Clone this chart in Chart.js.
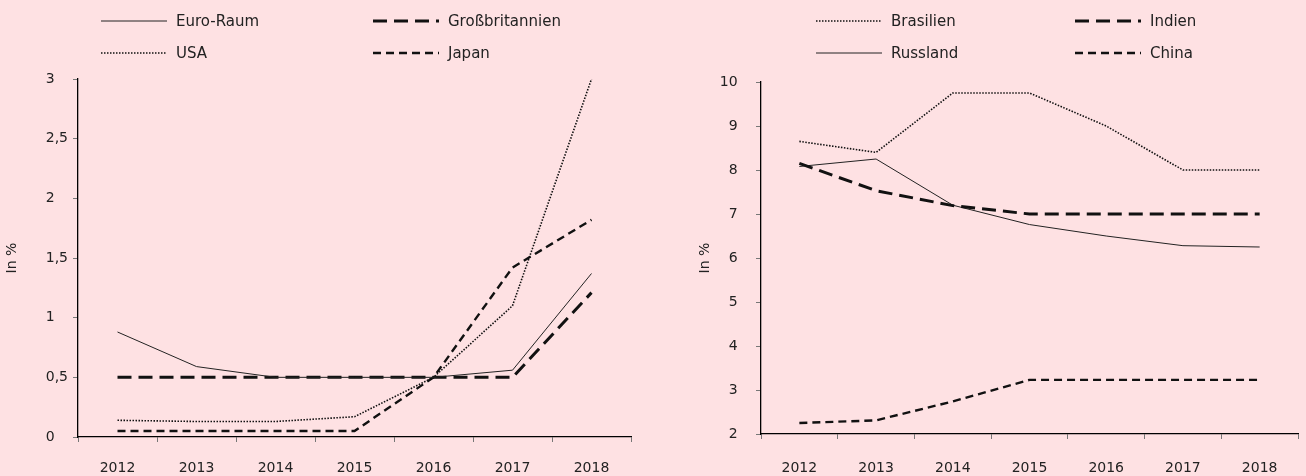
<!DOCTYPE html>
<html>
<head>
<meta charset="utf-8">
<script src="https://cdn.jsdelivr.net/npm/chart.js@4/dist/chart.umd.min.js"></script>
<style>
  html, body { margin: 0; padding: 0; background: #fee1e3; overflow: hidden; }
  #wrap { position: relative; width: 1306px; height: 476px; }
  canvas { position: absolute; top: 0; }
  #left { left: 0; }
  #right { left: 653px; }
</style>
</head>
<body>
<div id="wrap">
  <canvas id="left" width="653" height="476"></canvas>
  <canvas id="right" width="653" height="476"></canvas>
</div>
<script>
// ---- Data ----
const years = ['2012', '2013', '2014', '2015', '2016', '2017', '2018'];

const leftLabels = ['Euro-Raum', 'Großbritannien', 'USA', 'Japan'];
const euroRaum       = [0.88, 0.59, 0.50, 0.50, 0.50, 0.56, 1.37];
const grossbritannien = [0.50, 0.50, 0.50, 0.50, 0.50, 0.50, 1.21];
const usa            = [0.14, 0.13, 0.13, 0.17, 0.50, 1.10, 3.00];
const japan          = [0.05, 0.05, 0.05, 0.05, 0.50, 1.42, 1.82];
const leftTicks = { min: 0, max: 3, step: 0.5 };

const rightLabels = ['Brasilien', 'Indien', 'Russland', 'China'];
const brasilien = [8.65, 8.40, 9.75, 9.75, 9.00, 8.00, 8.00];
const indien    = [8.15, 7.53, 7.19, 7.00, 7.00, 7.00, 7.00];
const russland  = [8.08, 8.25, 7.20, 6.76, 6.50, 6.28, 6.25];
const china     = [2.25, 2.31, 2.74, 3.23, 3.23, 3.23, 3.23];
const rightTicks = { min: 2, max: 10, step: 1 };

const axisTitle = 'In %';

// ---- Styles ----
const FONT = 'DejaVu Sans';
const TEXT = '#222';
const styles = {
  solid:    { borderColor: '#222', borderWidth: 1,   borderDash: [] },
  dotted:   { borderColor: '#111', borderWidth: 1.6, borderDash: [1.5, 1.5] },
  longDash: { borderColor: '#111', borderWidth: 3,   borderDash: [14, 7] },
  shortDash:{ borderColor: '#111', borderWidth: 2.4, borderDash: [8, 5] }
};

Chart.defaults.font.family = FONT;
Chart.defaults.font.size = 14;
Chart.defaults.color = TEXT;

const gridLegend = {
  id: 'gridLegend',
  afterDraw(chart, args, opts) {
    const ctx = chart.ctx;
    chart.data.datasets.forEach((ds, i) => {
      const x = opts.colX[i % 2];
      const y = opts.rowY[Math.floor(i / 2)];
      ctx.save();
      ctx.strokeStyle = ds.borderColor;
      ctx.lineWidth = ds.borderWidth;
      ctx.setLineDash(ds.borderDash || []);
      ctx.beginPath();
      ctx.moveTo(x, y);
      ctx.lineTo(x + opts.sampleWidth, y);
      ctx.stroke();
      ctx.setLineDash([]);
      ctx.fillStyle = TEXT;
      ctx.font = opts.fontSize + 'px "' + FONT + '"';
      ctx.textAlign = 'left';
      ctx.textBaseline = 'middle';
      ctx.fillText(ds.label, x + opts.sampleWidth + opts.gap, y + 1);
      ctx.restore();
    });
  }
};

function makeDataset(label, data, style) {
  return Object.assign({
    label: label,
    data: data,
    pointRadius: 0,
    pointHoverRadius: 0,
    tension: 0,
    fill: false,
    borderCapStyle: 'butt',
    backgroundColor: 'transparent'
  }, style);
}

function makeChart(canvasId, datasets, tickCfg, geom) {
  return new Chart(document.getElementById(canvasId), {
    type: 'line',
    data: { labels: years, datasets: datasets },
    plugins: [gridLegend],
    options: {
      responsive: false,
      animation: false,
      events: [],
      layout: { padding: geom.padding },
      plugins: {
        legend: { display: false },
        tooltip: { enabled: false },
        gridLegend: geom.legend
      },
      scales: {
        x: {
          type: 'category',
          offset: true,
          grid: { offset: true, drawOnChartArea: false, drawTicks: true, tickLength: 5, color: '#777', tickColor: '#777' },
          border: { display: true, color: '#000', width: 1.3 },
          ticks: { padding: geom.xPad, color: TEXT, font: { size: 14 }, maxRotation: 0, autoSkip: false },
          afterFit(scale) { scale.height = geom.xHeight; }
        },
        y: {
          min: tickCfg.min,
          max: tickCfg.max,
          grid: { drawOnChartArea: false, drawTicks: true, tickLength: 5, color: '#777', tickColor: '#777' },
          border: { display: true, color: '#000', width: 1.3 },
          ticks: {
            stepSize: tickCfg.step,
            padding: 5,
            color: TEXT,
            font: { size: 14 },
            callback: geom.yFormat
          },
          title: { display: true, text: axisTitle, color: TEXT, font: { size: 14 }, padding: { top: 4, bottom: 4 } },
          afterFit(scale) { scale.width = geom.yWidth; }
        }
      }
    }
  });
}

function fmtMixed(v) {
  const s = String(v).replace('.', ',');
  return Number.isInteger(v) ? s + '\u2008\u2007' : s;
}

makeChart('left', [
  makeDataset(leftLabels[0], euroRaum, styles.solid),
  makeDataset(leftLabels[1], grossbritannien, styles.longDash),
  makeDataset(leftLabels[2], usa, styles.dotted),
  makeDataset(leftLabels[3], japan, styles.shortDash)
], leftTicks, {
  padding: { left: 0, top: 79, right: 22, bottom: 0 },
  xHeight: 39, yWidth: 78, xPad: 18,
  yFormat: fmtMixed,
  legend: { colX: [101, 373], rowY: [21, 53], sampleWidth: 66, gap: 9, fontSize: 15 }
});

makeChart('right', [
  makeDataset(rightLabels[0], brasilien, styles.dotted),
  makeDataset(rightLabels[1], indien, styles.longDash),
  makeDataset(rightLabels[2], russland, styles.solid),
  makeDataset(rightLabels[3], china, styles.shortDash)
], rightTicks, {
  padding: { left: 40, top: 82, right: 8, bottom: 0 },
  xHeight: 42, yWidth: 68, xPad: 20.5,
  yFormat: fmtMixed,
  legend: { colX: [163, 422], rowY: [21, 53], sampleWidth: 66, gap: 9, fontSize: 15 }
});
</script>
</body>
</html>
